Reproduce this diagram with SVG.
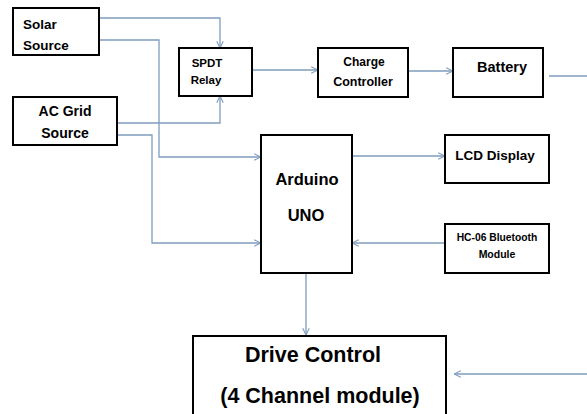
<svg xmlns="http://www.w3.org/2000/svg" width="587" height="414" viewBox="0 0 587 414">
<defs>
<marker id="arr" viewBox="0 0 10 10" refX="9.5" refY="5" markerWidth="8" markerHeight="8" markerUnits="userSpaceOnUse" orient="auto">
<polyline points="1,1 9.5,5 1,9" fill="none" stroke="#7f9dbd" stroke-width="1.4"/>
</marker>
</defs>
<style>
.box{fill:#fff;stroke:#000;stroke-width:2}
.t{font-family:"Liberation Sans",Arial,sans-serif;font-weight:bold;fill:#000}
.c{fill:none;stroke:#7f9dbd;stroke-width:1.3}
.a{marker-end:url(#arr)}
</style>
<rect width="587" height="414" fill="#fff"/>
<g id="connectors">
<polyline class="c a" points="99,18 220,18 220,48"/>
<polyline class="c a" points="99,40 159,40 159,157 261,157"/>
<polyline class="c a" points="117,123 220,123 220,96"/>
<polyline class="c a" points="117,135 152,135 152,243 261,243"/>
<line class="c a" x1="252" y1="70" x2="318" y2="70"/>
<line class="c a" x1="408" y1="71" x2="453" y2="71"/>
<line class="c" x1="549" y1="76" x2="587" y2="76"/>
<line class="c a" x1="352" y1="156" x2="445" y2="156"/>
<line class="c a" x1="445" y1="243" x2="352" y2="243"/>
<line class="c a" x1="306" y1="273" x2="306" y2="335"/>
<line class="c a" x1="587" y1="374" x2="454" y2="374"/>
</g>
<g id="solar">
<rect class="box" x="13" y="8" width="86" height="47"/>
<text class="t" x="23" y="29" font-size="13.5">Solar</text>
<text class="t" x="23" y="50" font-size="13.5">Source</text>
</g>
<g id="spdt">
<rect class="box" x="179" y="48" width="73" height="48"/>
<text class="t" x="207" y="67" font-size="11.5" text-anchor="middle">SPDT</text>
<text class="t" x="206" y="84" font-size="11.5" text-anchor="middle">Relay</text>
</g>
<g id="acgrid">
<rect class="box" x="13" y="97" width="104" height="48"/>
<text class="t" x="65" y="116" font-size="14" text-anchor="middle">AC Grid</text>
<text class="t" x="65" y="138" font-size="14" text-anchor="middle">Source</text>
</g>
<g id="charge">
<rect class="box" x="318" y="48" width="90" height="49"/>
<text class="t" x="364" y="66" font-size="12" text-anchor="middle">Charge</text>
<text class="t" x="363" y="86" font-size="12.5" text-anchor="middle">Controller</text>
</g>
<g id="battery">
<rect class="box" x="453" y="48" width="90" height="49"/>
<text class="t" x="502" y="72" font-size="14.5" text-anchor="middle">Battery</text>
</g>
<g id="arduino">
<rect class="box" x="261" y="135" width="91" height="138"/>
<text class="t" x="307" y="185" font-size="16.5" text-anchor="middle">Arduino</text>
<text class="t" x="306" y="221" font-size="16.5" text-anchor="middle">UNO</text>
</g>
<g id="lcd">
<rect class="box" x="445" y="135" width="104" height="48"/>
<text class="t" x="495" y="160" font-size="13.5" text-anchor="middle">LCD Display</text>
</g>
<g id="hc06">
<rect class="box" x="445" y="224" width="104" height="49"/>
<text class="t" x="497" y="241" font-size="10.3" text-anchor="middle">HC-06 Bluetooth</text>
<text class="t" x="497" y="258" font-size="10.5" text-anchor="middle">Module</text>
</g>
<g id="drive">
<rect class="box" x="193" y="336" width="253" height="90"/>
<text class="t" x="313" y="362" font-size="21.5" text-anchor="middle">Drive Control</text>
<text class="t" x="320" y="403" font-size="21.5" text-anchor="middle">(4 Channel module)</text>
</g>
</svg>
